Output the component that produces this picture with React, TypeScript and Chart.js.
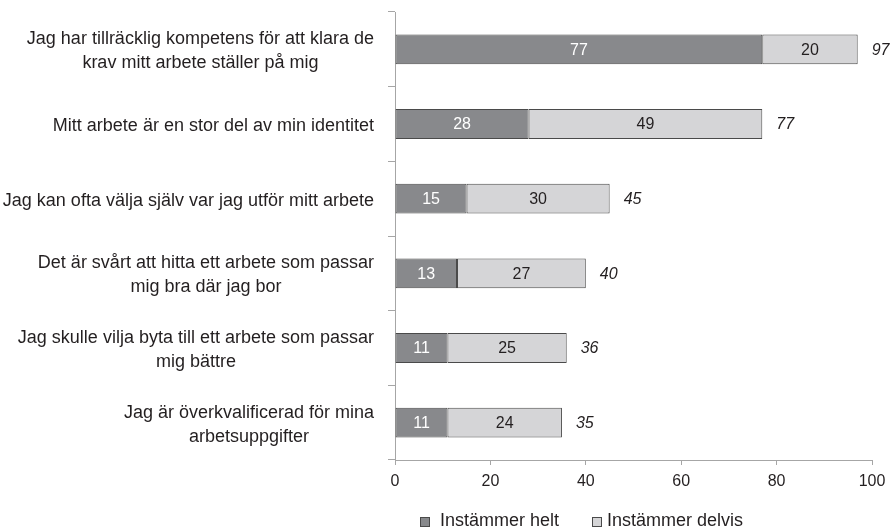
import React, { useEffect, useRef } from "react";
import { Chart, registerables } from "chart.js";

Chart.register(...registerables);

const categories: string[][] = [
  ["Jag har tillräcklig kompetens för att klara de", "krav mitt arbete ställer på mig"],
  ["Mitt arbete är en stor del av min identitet"],
  ["Jag kan ofta välja själv var jag utför mitt arbete"],
  ["Det är svårt att hitta ett arbete som passar", "mig bra där jag bor"],
  ["Jag skulle vilja byta till ett arbete som passar", "mig bättre"],
  ["Jag är överkvalificerad för mina", "arbetsuppgifter"],
];
const seriesNames = ["Instämmer helt", "Instämmer delvis"];
const heltValues = [77, 28, 15, 13, 11, 11];
const delvisValues = [20, 49, 30, 27, 25, 24];
const totalValues = [97, 77, 45, 40, 36, 35];
const xTicks = [0, 20, 40, 60, 80, 100];

const DARK = "#88898c";
const LIGHT = "#d5d5d7";
const BORDER = "#4a4a4a";
const AXIS = "#a6a6a6";
const TEXT = "#231f20";
const FONT = "'Liberation Sans', Arial, sans-serif";

const labelPlugin = {
  id: "customLabels",
  afterDraw(chart: any) {
    const ctx = chart.ctx;
    const area = chart.chartArea;
    const yScale = chart.scales.y;
    ctx.save();
    // category labels
    ctx.font = `18px ${FONT}`;
    ctx.fillStyle = TEXT;
    ctx.textBaseline = "middle";
    ctx.textAlign = "center";
    const rightEdge = area.left - 21;
    const lh = 24;
    categories.forEach((lines, i) => {
      const cy = yScale.getPixelForValue(i);
      const maxW = Math.max(...lines.map((l) => ctx.measureText(l).width));
      const cx = rightEdge - maxW / 2;
      const startY = cy - ((lines.length - 1) * lh) / 2 + 2;
      lines.forEach((l, j) => ctx.fillText(l, cx, startY + j * lh));
    });
    // segment values
    ctx.font = `16px ${FONT}`;
    const m0 = chart.getDatasetMeta(0);
    const m1 = chart.getDatasetMeta(1);
    m0.data.forEach((el: any, i: number) => {
      ctx.fillStyle = "#ffffff";
      ctx.fillText(String(heltValues[i]), (el.x + el.base) / 2, el.y + 1);
    });
    m1.data.forEach((el: any, i: number) => {
      ctx.fillStyle = TEXT;
      ctx.textAlign = "center";
      ctx.font = `16px ${FONT}`;
      ctx.fillText(String(delvisValues[i]), (el.x + el.base) / 2, el.y + 1);
      ctx.textAlign = "left";
      ctx.font = `italic 16px ${FONT}`;
      ctx.fillText(String(totalValues[i]), el.x + 14, el.y + 1);
    });
    // legend
    const ly = 520;
    const items = [
      { x: 420, tx: 440, color: DARK, text: seriesNames[0] },
      { x: 592, tx: 607, color: LIGHT, text: seriesNames[1] },
    ];
    ctx.font = `18px ${FONT}`;
    ctx.textAlign = "left";
    items.forEach((it) => {
      ctx.fillStyle = it.color;
      ctx.fillRect(it.x + 0.5, ly - 2.5, 9, 9);
      ctx.strokeStyle = BORDER;
      ctx.lineWidth = 1;
      ctx.strokeRect(it.x + 0.5, ly - 2.5, 9, 9);
      ctx.fillStyle = TEXT;
      ctx.fillText(it.text, it.tx, ly + 1);
    });
    ctx.restore();
  },
};

export default function App() {
  const ref = useRef<HTMLCanvasElement | null>(null);
  useEffect(() => {
    if (!ref.current) return;
    const chart = new Chart(ref.current, {
      type: "bar",
      data: {
        labels: categories.map((c) => c.join(" ")),
        datasets: [
          {
            label: seriesNames[0],
            data: heltValues,
            backgroundColor: DARK,
            borderColor: BORDER,
            borderWidth: 1,
            borderSkipped: false,
            barPercentage: 0.4,
            categoryPercentage: 1,
          },
          {
            label: seriesNames[1],
            data: delvisValues,
            backgroundColor: LIGHT,
            borderColor: BORDER,
            borderWidth: 1,
            borderSkipped: false,
            barPercentage: 0.4,
            categoryPercentage: 1,
          },
        ],
      },
      options: {
        indexAxis: "y",
        responsive: false,
        animation: false,
        layout: { padding: { top: 12, right: 24, bottom: 28, left: 0 } },
        plugins: {
          legend: { display: false },
          tooltip: { enabled: false },
          title: { display: false },
        },
        scales: {
          x: {
            stacked: true,
            min: 0,
            max: 100,
            afterBuildTicks: (s: any) => {
              s.ticks = xTicks.map((v) => ({ value: v }));
            },
            afterFit: (s: any) => {
              s.height = 40;
            },
            grid: {
              drawOnChartArea: false,
              drawTicks: true,
              tickLength: 5,
              color: AXIS,
            },
            border: { display: true, color: AXIS, width: 1 },
            ticks: {
              color: TEXT,
              font: { family: FONT, size: 16 },
              padding: 7,
            },
          },
          y: {
            stacked: true,
            afterFit: (s: any) => {
              s.width = 395;
            },
            grid: {
              offset: true,
              drawOnChartArea: false,
              drawTicks: true,
              tickLength: 7,
              color: AXIS,
            },
            border: { display: true, color: AXIS, width: 1 },
            ticks: { display: false },
          },
        },
      },
      plugins: [labelPlugin],
    } as any);
    return () => chart.destroy();
  }, []);
  return (
    <div style={{ position: "absolute", left: 0, top: 0, width: 896, height: 528, background: "#fff" }}>
      <canvas ref={ref} width={896} height={528} />
    </div>
  );
}
